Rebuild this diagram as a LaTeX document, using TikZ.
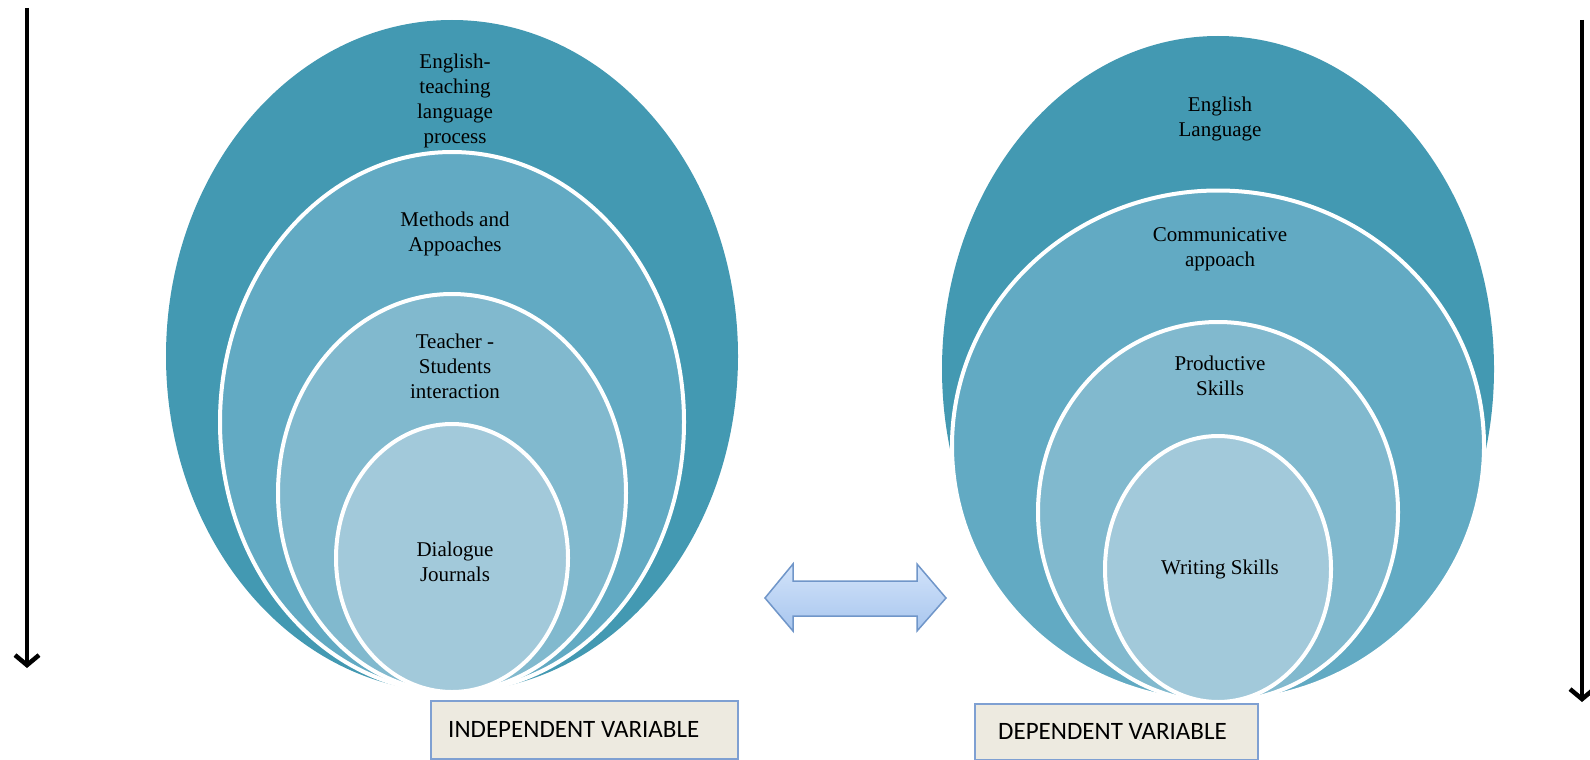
\documentclass[tikz,border=0pt]{standalone}
\usepackage{fontspec}
\setmainfont{Liberation Serif}
\newfontfamily\boxfont{Carlito}
\usetikzlibrary{shapes.geometric,arrows.meta}
\definecolor{ringA}{HTML}{4399B2}
\definecolor{ringB}{HTML}{62AAC3}
\definecolor{ringC}{HTML}{81B9CE}
\definecolor{ringD}{HTML}{A2C9DA}
\definecolor{boxfill}{HTML}{EDEAE0}
\definecolor{boxline}{HTML}{7FA0D2}
\definecolor{dblline}{HTML}{7096C9}
\definecolor{dbltop}{HTML}{D2E3FA}
\definecolor{dblbot}{HTML}{A8C6EE}
\tikzset{
  ring/.style={ellipse, draw=white, line width=4pt, inner sep=0pt},
  lbl/.style={align=center, font=\fontsize{21}{25}\selectfont, text=black, inner sep=0pt},
  varbox/.style={draw=boxline, fill=boxfill, line width=1.5pt, anchor=north west, inner sep=0pt},
  boxlbl/.style={font=\boxfont\fontsize{25}{29}\selectfont, anchor=west, inner sep=0pt},
  vertarr/.style={line width=4.5pt, -{Straight Barb[length=10pt,width=24pt,line width=4.5pt]}},
  dblarr/.style={draw=dblline, line width=1.5pt, top color=dbltop, bottom color=dblbot, line join=miter}
}
\begin{document}
\begin{tikzpicture}[x=1pt,y=-1pt]
\useasboundingbox (0,0) rectangle (1590,760);
\fill[white] (0,0) rectangle (1590,760);

% left nested ellipses
\node[ring, fill=ringA, draw=none, minimum width=572pt, minimum height=672pt] (L1) at (452,356) {};
\node[ring, fill=ringB, minimum width=464pt, minimum height=540pt] (L2) at (452,422) {};
\node[ring, fill=ringC, minimum width=348pt, minimum height=398pt] (L3) at (452,493) {};
\node[ring, fill=ringD, minimum width=232pt, minimum height=268pt] (L4) at (452,558) {};

\node[lbl] (t1) at (455,101) {English-\\teaching\\language\\process};
\node[lbl] (t2) at (455,234) {Methods and\\Appoaches};
\node[lbl] (t3) at (455,366) {Teacher -\\Students\\interaction};
\node[lbl] (t4) at (455,562) {Dialogue\\Journals};

% right nested ellipses
\node[ring, fill=ringA, draw=none, minimum width=552pt, minimum height=666pt] (R1) at (1218,369) {};
\node[ring, fill=ringB, minimum width=532pt, minimum height=511pt] (R2) at (1218,446) {};
\node[ring, fill=ringC, minimum width=360pt, minimum height=380pt] (R3) at (1218,512) {};
\node[ring, fill=ringD, minimum width=226pt, minimum height=266pt] (R4) at (1218,569) {};

\node[lbl] (s1) at (1220,119) {English\\Language};
\node[lbl] (s2) at (1220,249) {Communicative\\appoach};
\node[lbl] (s3) at (1220,376) {Productive\\Skills};
\node[lbl] (s4) at (1220,569) {Writing Skills};

% variable boxes
\node[varbox, minimum width=307pt, minimum height=58pt] (ivbox) at (430,700) {};
\node[boxlbl] (ivtext) at ([xshift=18pt]ivbox.west) {INDEPENDENT VARIABLE};
\node[varbox, minimum width=283pt, minimum height=56pt] (dvbox) at (974,703) {};
\node[boxlbl] (dvtext) at ([xshift=24pt]dvbox.west) {DEPENDENT VARIABLE};

% double arrow
\coordinate (dac) at (855,598);
\draw[dblarr] (765,598) -- (793,564) -- (793,581) -- (917,581) -- (917,564) -- (946,598)
  -- (917,631) -- (917,616) -- (793,616) -- (793,631) -- cycle;

% vertical arrows
\coordinate (la1) at (27,8);
\coordinate (la2) at (27,668);
\draw[vertarr] (la1) -- (la2);
\coordinate (ra1) at (1582,20);
\coordinate (ra2) at (1582,702);
\draw[vertarr] (ra1) -- (ra2);
\end{tikzpicture}
\end{document}
